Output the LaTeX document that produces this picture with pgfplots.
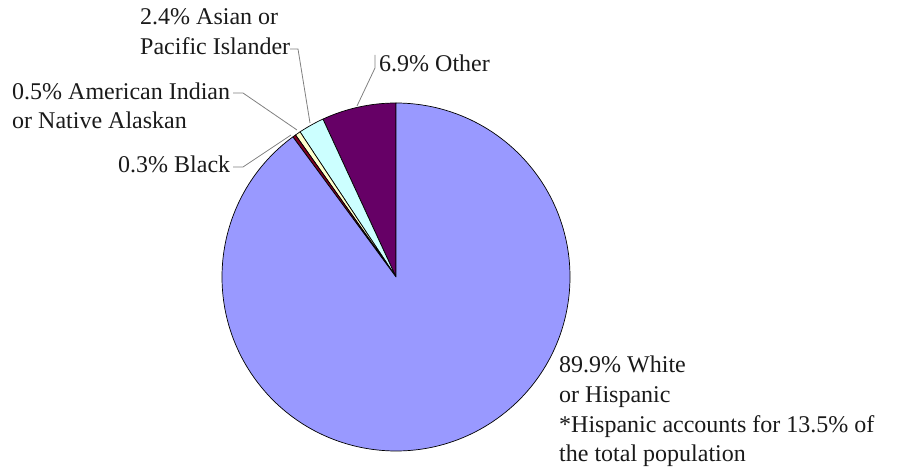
\documentclass[border=0pt]{standalone}
\usepackage{pgfplots}
\usepackage{pgfplotstable}
\pgfplotsset{compat=1.18}
\usepackage{fontspec}
\setmainfont{Liberation Serif}
\definecolor{cOther}{HTML}{660066}
\definecolor{cAsian}{HTML}{CCFFFF}
\definecolor{cAmInd}{HTML}{FFFFCC}
\definecolor{cBlack}{HTML}{800020}
\definecolor{cWhite}{HTML}{9999FF}
\definecolor{txt}{HTML}{1A1A1A}
\definecolor{lead}{HTML}{808080}
\pgfplotstableread{
value col
6.9 cOther
2.4 cAsian
0.5 cAmInd
0.3 cBlack
89.9 cWhite
}\piedata
\begin{document}
\begin{tikzpicture}
\begin{axis}[
  scale only axis, width=903pt, height=470pt,
  xmin=0, xmax=903, ymin=0, ymax=470,
  hide axis, clip=false]
\path[draw=none] (axis cs:0,0) rectangle (axis cs:903,470);
\def\cum{90}
\pgfplotsforeachungrouped \i in {0,...,4}{%
  \pgfplotstablegetelem{\i}{value}\of\piedata \let\v=\pgfplotsretval
  \pgfplotstablegetelem{\i}{col}\of\piedata \let\c=\pgfplotsretval
  \pgfmathsetmacro\endang{\cum+3.6*\v}%
  \edef\temp{\noexpand\filldraw[fill=\c,draw=black,line width=0.7pt,line join=round] (axis cs:396,193) -- ++(\cum:174pt) arc[start angle=\cum,end angle=\endang,radius=174pt] -- cycle;}%
  \temp
  \global\let\cum\endang
}
% leader lines
\draw[lead,line width=0.8pt] (axis cs:290,421) -- (axis cs:298,421) -- (axis cs:310,347);
\draw[lead,line width=0.8pt] (axis cs:375,415) -- (axis cs:375,402) -- (axis cs:357,364);
\draw[lead,line width=0.8pt] (axis cs:233,377) -- (axis cs:243,377) -- (axis cs:297,340);
\draw[lead,line width=0.8pt] (axis cs:233,303) -- (axis cs:243,303) -- (axis cs:291,335);
% labels
\tikzset{lbl/.style={anchor=base west,inner sep=0pt,text=txt,font=\fontsize{24}{30}\selectfont}}
\node[lbl] at (axis cs:140,445) {2.4\% Asian or};
\node[lbl] at (axis cs:140,415) {Pacific Islander};
\node[lbl] at (axis cs:379,398) {6.9\% Other};
\node[lbl] at (axis cs:12,370) {0.5\% American Indian};
\node[lbl] at (axis cs:12,341) {or Native Alaskan};
\node[lbl] at (axis cs:118,297) {0.3\% Black};
\node[lbl] at (axis cs:559,97) {89.9\% White};
\node[lbl] at (axis cs:559,67) {or Hispanic};
\node[lbl] at (axis cs:559,37) {*Hispanic accounts for 13.5\% of};
\node[lbl] at (axis cs:559,8) {the total population};
\end{axis}
\end{tikzpicture}
\end{document}
